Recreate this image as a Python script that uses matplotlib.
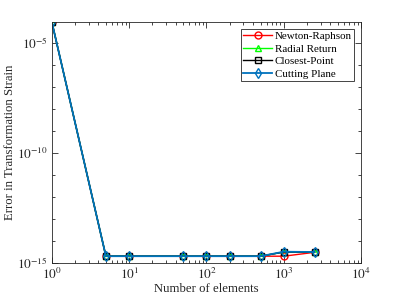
import numpy as np
import matplotlib
matplotlib.use('Agg')
import matplotlib.pyplot as plt
from matplotlib.ticker import FixedLocator, NullFormatter

plt.rcParams['font.family'] = ['Liberation Serif', 'DejaVu Serif']
plt.rcParams['mathtext.fontset'] = 'stix'

# number of elements
n_elem = [1, 5, 10, 50, 100, 200, 500, 1000, 2500]

# error in transformation strain for each return-mapping algorithm
err_nr = [8.7e-5, 2.0e-15, 2.0e-15, 2.0e-15, 2.0e-15, 2.0e-15, 2.0e-15, 2.0e-15, 3.0e-15]
err_rr = [8.7e-5, 2.0e-15, 2.0e-15, 2.0e-15, 2.0e-15, 2.0e-15, 2.0e-15, 3.1e-15, 3.0e-15]
err_cp = [8.7e-5, 2.0e-15, 2.0e-15, 2.0e-15, 2.0e-15, 2.0e-15, 2.0e-15, 3.1e-15, 3.1e-15]
err_cut = [8.7e-5, 2.0e-15, 2.0e-15, 2.0e-15, 2.0e-15, 2.0e-15, 2.0e-15, 3.2e-15, 3.1e-15]

labels = ['Newton-Raphson', 'Radial Return', 'Closest-Point', 'Cutting Plane']

fig = plt.figure(figsize=(3.99, 2.99), dpi=100)
ax = fig.add_axes([0.130, 0.121, 0.775, 0.805])

ax.plot(n_elem, err_nr, '-o', color='red', lw=1.0, ms=5, mfc='none', mew=1.0, label=labels[0])
ax.plot(n_elem, err_rr, '-^', color='#00ff00', lw=1.0, ms=5, mfc='none', mew=1.0, label=labels[1])
ax.plot(n_elem, err_cp, '-s', color='black', lw=1.0, ms=4.5, mfc='none', mew=1.0, label=labels[2])
ax.plot(n_elem, err_cut, '-d', color='#0072bd', lw=1.3, ms=5, mfc='none', mew=1.0, label=labels[3])

ax.set_xscale('log')
ax.set_yscale('log')
ax.set_xlim(1, 1e4)
ax.set_ylim(1e-15, 8.7e-5)

ax.yaxis.set_major_locator(FixedLocator([1e-15, 1e-10, 1e-5]))
ax.set_yticklabels(['$10^{-15}$', '$10^{-10}$', '$10^{-5}$'])
ax.yaxis.set_minor_locator(FixedLocator([10.0 ** k for k in range(-15, -4)]))
ax.yaxis.set_minor_formatter(NullFormatter())
ax.xaxis.set_major_locator(FixedLocator([1, 10, 100, 1000, 10000]))
ax.set_xticklabels(['$10^{0}$', '$10^{1}$', '$10^{2}$', '$10^{3}$', '$10^{4}$'])

gray = (0.15, 0.15, 0.15)
for s in ax.spines.values():
    s.set_color(gray)
    s.set_linewidth(0.6)
ax.tick_params(which='both', direction='in', top=True, right=True, colors=gray, labelsize=9.5, width=0.6)
ax.tick_params(which='major', length=4, pad=3)
ax.tick_params(which='minor', length=2)

ax.set_xlabel('Number of elements', fontsize=9.2, color=gray, labelpad=1)
ax.set_ylabel('Error in Transformation Strain', fontsize=9.2, color=gray)
ax.yaxis.set_label_coords(-0.115, 0.5)

leg = ax.legend(loc='upper right', fontsize=7.9, fancybox=False, framealpha=1,
                edgecolor=gray, borderpad=0.2, labelspacing=0.26, handlelength=2.6,
                handletextpad=0.25, borderaxespad=0.65)
leg.get_frame().set_linewidth(0.6)

fig.savefig('out.png', dpi=100)
